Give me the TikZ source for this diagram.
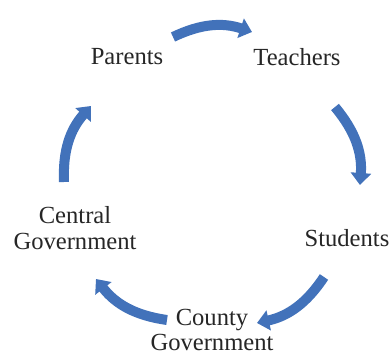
\documentclass[tikz,border=0pt]{standalone}
\usepackage{fontspec}
\setmainfont{Liberation Serif}
\usetikzlibrary{arrows.meta}
\definecolor{cycleblue}{RGB}{66,114,186}

\begin{document}
\begin{tikzpicture}[x=0.5pt, y=0.5pt,
    label/.style={align=center, text=black!85, font=\fontsize{12.3}{12.8}\selectfont, inner sep=0pt},
    flow/.style={line width=5pt, color=cycleblue, -{Triangle[width=10pt,length=6pt]}, bend left=22}]
    \useasboundingbox (0,0) rectangle (392,358);
    % labels
    \node[label] (parents) at (127,301) {Parents};
    \node[label] (teachers) at (297,301) {Teachers};
    \node[label] (students) at (347,120) {Students};
    \node[label] (county) at (212,28) {County\\Government};
    \node[label] (central) at (75,130) {Central\\Government};
    % arrow ends
    \coordinate (pt-a) at (173,321);
    \coordinate (pt-b) at (252,326);
    \coordinate (ts-a) at (335,251);
    \coordinate (ts-b) at (360,173);
    \coordinate (sc-a) at (324,81);
    \coordinate (sc-b) at (257,35);
    \coordinate (cc-a) at (167,38);
    \coordinate (cc-b) at (96,79);
    \coordinate (cp-a) at (64,176);
    \coordinate (cp-b) at (91,252);
    % arrows
    \draw[flow] (pt-a) to (pt-b);
    \draw[flow] (ts-a) to (ts-b);
    \draw[flow] (sc-a) to (sc-b);
    \draw[flow] (cc-a) to (cc-b);
    \draw[flow] (cp-a) to (cp-b);
\end{tikzpicture}
\end{document}
